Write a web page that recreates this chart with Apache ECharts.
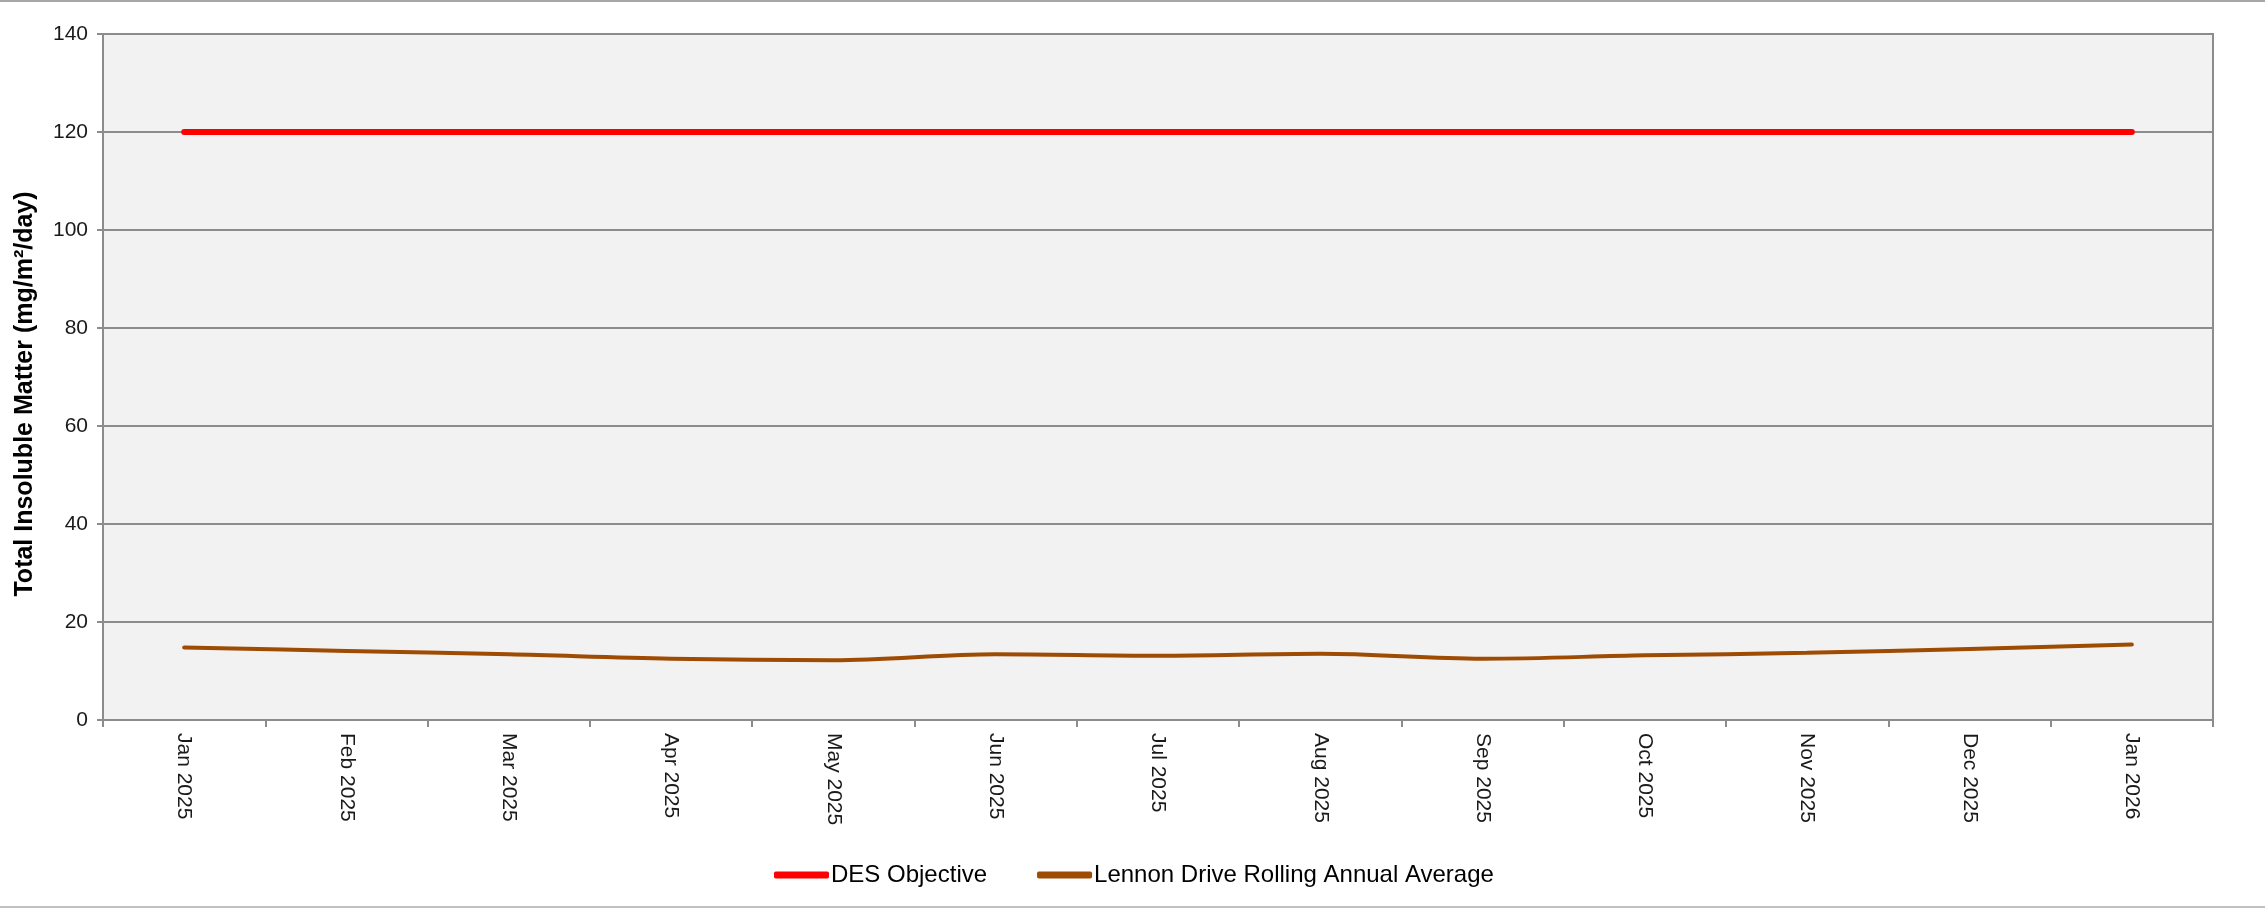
<!DOCTYPE html>
<html>
<head>
<meta charset="utf-8">
<title>Total Insoluble Matter</title>
<script src="https://cdn.jsdelivr.net/npm/echarts@6/dist/echarts.min.js"></script>
<style>
  html, body { margin: 0; padding: 0; background: #fff; }
  #chart { width: 2265px; height: 908px; }
</style>
</head>
<body>
<div id="chart"></div>
<script>
// 数据
const months = ['Jan 2025', 'Feb 2025', 'Mar 2025', 'Apr 2025', 'May 2025', 'Jun 2025', 'Jul 2025',
  'Aug 2025', 'Sep 2025', 'Oct 2025', 'Nov 2025', 'Dec 2025', 'Jan 2026']
const desObjective = [120, 120, 120, 120, 120, 120, 120, 120, 120, 120, 120, 120, 120]
const lennonRolling = [14.8, 14.1, 13.4, 12.5, 12.2, 13.4, 13.1, 13.5, 12.5, 13.2, 13.7, 14.5, 15.4]

const gridGrey = '#8c8c8c'
const red = '#ff0000'
const brown = '#9e4b04'
const chart = echarts.init(document.getElementById('chart'))

const option = {
  animation: false,
  textStyle: { fontFamily: 'Liberation Sans, Arial, sans-serif' },
  grid: {
    left: 103,
    right: 52,
    top: 34,
    bottom: 188,
    show: true,
    backgroundColor: '#f2f2f2',
    borderColor: gridGrey,
    borderWidth: 2
  },
  legend: {
    left: 769,
    top: 858,
    icon: 'roundRect',
    itemWidth: 55,
    itemHeight: 7,
    itemGap: 50,
    textStyle: { fontSize: 24, color: '#000', padding: [0, 0, 0, -3] },
    data: ['DES Objective', 'Lennon Drive Rolling Annual Average']
  },
  xAxis: {
    type: 'category',
    data: months,
    boundaryGap: true,
    axisLine: { lineStyle: { color: gridGrey, width: 2 } },
    axisTick: { show: true, length: 7, lineStyle: { color: gridGrey, width: 2 } },
    axisLabel: {
      rotate: -90,
      margin: 13,
      fontSize: 21,
      color: '#1a1a1a'
    },
    splitLine: { show: false }
  },
  yAxis: {
    type: 'value',
    min: 0,
    max: 140,
    interval: 20,
    axisLine: { show: true, lineStyle: { color: gridGrey, width: 2 } },
    axisTick: { show: true, length: 6, lineStyle: { color: gridGrey, width: 2 } },
    axisLabel: { fontSize: 21, margin: 15, color: '#1a1a1a' },
    splitLine: { show: true, lineStyle: { color: gridGrey, width: 2 } }
  },
  series: [
    {
      name: 'DES Objective',
      type: 'line',
      data: desObjective,
      showSymbol: false,
      symbol: 'none',
      itemStyle: { color: red },
      lineStyle: { color: red, width: 6, cap: 'round' }
    },
    {
      name: 'Lennon Drive Rolling Annual Average',
      type: 'line',
      data: lennonRolling,
      smooth: 0.35,
      showSymbol: false,
      symbol: 'none',
      itemStyle: { color: brown },
      lineStyle: { color: brown, width: 4, cap: 'round' }
    }
  ],
  graphic: [
    { type: 'rect', shape: { x: 0, y: 0, width: 2265, height: 2 }, style: { fill: '#a6a6a6' } },
    { type: 'rect', shape: { x: 0, y: 906, width: 2265, height: 2 }, style: { fill: '#c0c0c0' } },
    // y axis title, sits a little below the plot centre in the original
    {
      type: 'text',
      x: 25,
      y: 394,
      rotation: Math.PI / 2,
      style: {
        text: 'Total Insoluble Matter (mg/m²/day)',
        font: 'bold 25px "Liberation Sans", Arial, sans-serif',
        fill: '#000',
        align: 'center',
        verticalAlign: 'middle'
      }
    }
  ]
}

chart.setOption(option)
</script>
</body>
</html>
